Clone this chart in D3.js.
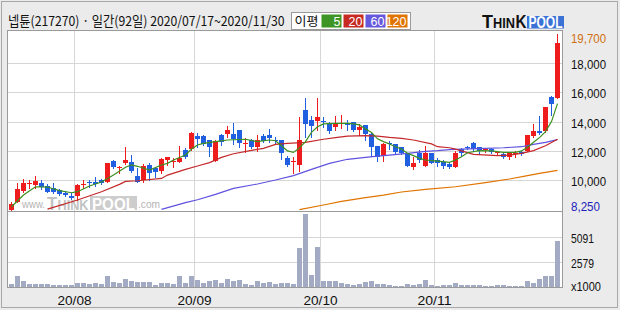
<!DOCTYPE html>
<html><head><meta charset="utf-8">
<script src="https://cdn.jsdelivr.net/npm/d3@7"></script>
<style>html,body{margin:0;padding:0;background:#ebebeb;}svg{display:block}</style>
</head><body>
<script>
const title = "넵튠(217270) · 일간(92일) 2020/07/17~2020/11/30";
const legendLabel = "이평";
const maNames = ["5", "20", "60", "120"];
const monthIdx = [11, 31, 52, 71];
const monthLabels = ["20/08", "20/09", "20/10", "20/11"];
const priceTicks = [10000, 12000, 14000, 16000, 18000];
const maxLabel = 19700;
const minLabel = 8250;
const volTicks = [5091, 2579];
const volUnit = "x1000";

const openP = [7950,8520,9270,9750,9660,9770,9590,9430,9320,9130,8930,8930,9700,9890,9890,10000,9890,11300,10800,11140,11210,10270,10000,11030,10850,10640,11370,11210,11260,12050,12120,13010,13010,12740,11320,13080,13150,13150,13420,12490,12740,12280,13010,13080,12760,12740,11530,11280,11030,14790,14110,14040,14020,13880,13650,13860,13840,13950,13420,13770,13150,12330,11640,12530,12470,12240,11870,10910,11870,10980,11870,11370,11260,11070,10910,12120,12280,12510,12240,12100,12100,11850,11780,11550,11800,11940,12010,13040,13360,13360,15660,15590];
const highP = [8520,9770,10070,10000,10270,10000,9700,9770,9380,9270,9090,9730,10000,10000,10180,10070,11190,11370,10960,12260,11710,10800,11070,11140,10910,11480,11600,11480,12330,12170,13310,13200,13080,12740,12740,13150,13700,13880,13420,12850,12790,13080,13150,13470,12970,12740,11670,11550,14340,15640,14380,15640,14290,14000,14380,14450,14110,13950,13810,13770,13200,12330,12510,12670,12470,12240,11870,11550,12050,12330,11870,11530,11370,11190,11990,12210,12350,12580,12280,12210,12170,12010,11870,11940,11990,11990,13080,13840,14380,15020,15750,19980];
const lowP = [7900,8470,9160,9430,9430,9380,9160,9090,8970,8930,8700,8630,9430,9540,9610,9700,9840,10800,10460,11070,10570,9870,9840,10000,10230,10460,11030,10910,11210,11530,12050,12280,12400,11670,11320,12400,12970,12470,12280,11940,12170,12010,12630,12630,12470,11420,10980,10460,10640,12970,12970,13420,13650,13200,13420,13580,13420,13360,13080,12740,11640,11320,11320,12120,11830,11760,10980,10750,11210,10980,11190,10980,10850,10850,10910,11640,12100,11990,11780,11890,11830,11760,11480,11440,11600,11710,11990,12970,13150,13310,14450,15590];
const closeP = [8360,9380,9770,9790,9930,9540,9200,9200,9040,8970,8740,9660,9750,9770,9730,9770,11140,10910,10910,11370,10640,9890,10960,10460,10530,11420,11550,11320,11480,11600,13240,12830,12470,12240,12670,12630,13420,12790,12510,12530,12280,12740,12670,12900,12720,11830,11030,11320,12740,13810,13720,14310,13970,13360,13930,13900,13790,13420,13650,13150,12280,11600,12470,12490,11940,11830,10980,11190,11370,11870,11190,11140,10980,10890,11870,11830,12170,12100,11990,12150,11940,11890,11550,11870,11850,11760,13080,13360,13200,15020,15210,19360];
const volume = [335,1080,640,335,335,335,335,233,233,233,233,436,436,335,436,335,1080,538,436,842,640,500,500,538,233,436,436,335,1080,436,1080,741,436,640,741,436,842,640,741,335,233,640,436,538,335,436,436,335,4020,7440,1250,4120,640,640,640,436,335,233,335,538,640,335,335,233,132,132,335,233,335,741,233,132,233,233,436,233,233,233,233,132,132,233,233,132,132,132,640,436,842,1150,1150,4700];

const ma5Idx = [0,2,4,6,8,10,11,13,15,17,19,20,21,23,25,26,27,29,30,31,32,34,36,39,41,43,44,45,46,47,48,49,50,51,52,54,56,57,58,59,60,61,62,63,64,65,66,67,68,69,71,73,74,75,76,78,80,82,84,85,86,87,88,89,90,91];
const ma5Val = [8170,8970,9540,9520,9270,9130,9200,9590,9860,10340,10870,11030,10940,10680,11030,11140,11370,11710,12120,12400,12510,12630,12740,12790,12630,12740,12690,12350,11990,11890,12210,12630,13260,13650,13840,13880,13880,13840,13770,13500,13260,12820,12630,12470,12280,12120,11830,11670,11480,11370,11300,11210,11370,11600,11870,12010,11990,11890,11890,11990,12240,12580,12900,13310,14000,15230];
const ma20Idx = [6,11,15,18,19,21,25,26,29,31,33,35,37,40,42,44,46,49,52,54,56,59,61,63,65,67,70,71,73,74,77,81,83,85,87,89,91];
const ma20Val = [8010,8630,9200,9700,9910,9950,10110,10340,10730,10960,11190,11550,11800,12030,12170,12440,12510,12580,12790,12900,13010,13040,13010,12920,12850,12740,12470,12280,12210,12120,11760,11670,11710,11830,12010,12350,12790];
const ma60Idx = [25,29,31,34,37,41,44,47,50,53,56,59,61,63,66,69,71,73,75,79,82,85,87,89,91];
const ma60Val = [7990,8450,8650,9020,9430,9730,10000,10300,10730,11140,11420,11550,11640,11710,11830,11960,12010,12080,12120,12170,12210,12280,12440,12580,12760];
const ma120Idx = [48,52,55,59,62,65,69,74,79,83,86,88,91];
const ma120Val = [7970,8290,8540,8790,8970,9180,9360,9540,9820,10070,10300,10460,10660];

const W = 620, H = 310;
const L = 8, R = 560, PT = 31, PB = 211, VT = 212, VB = 287;
const colUp = "#ee1c1c", colDown = "#1f5fe0";
const maColors = ["#3c8f1e", "#c4282a", "#5f52de", "#e07400"];
const boxColors = ["#3d9525", "#c62a22", "#6558dc", "#e07400"];
const gridCol = "#d6d6d6";

const svg = d3.select("body").append("svg").attr("width", W).attr("height", H);
svg.append("rect").attr("x",1.5).attr("y",1.5).attr("width",616).attr("height",306)
  .attr("fill","#ebebeb").attr("stroke","#a8a8a8");

const n = closeP.length;
const xb = d3.scaleBand().domain(d3.range(n)).range([L, R]).padding(0);
const xc = i => xb(i) + 3.5;
const yP = d3.scaleLinear().domain([7880, 20200]).range([PB, PT]);
const yV = d3.scaleLinear().domain([0, 7640]).range([VB, VT]);

svg.append("rect").attr("x",7.5).attr("y",30.5).attr("width",555).attr("height",257)
  .attr("fill","#fff");

const grid = svg.append("g").attr("shape-rendering","crispEdges").attr("stroke",gridCol);
priceTicks.forEach(t => {
  const y = Math.round(yP(t)) + 0.5;
  grid.append("line").attr("x1",8).attr("x2",562).attr("y1",y).attr("y2",y);
});
volTicks.forEach(t => {
  const y = Math.round(yV(t)) + 0.5;
  grid.append("line").attr("x1",8).attr("x2",562).attr("y1",y).attr("y2",y);
});
monthIdx.forEach(i => {
  const x = xb(i) + 0.5;
  grid.append("line").attr("x1",x).attr("x2",x).attr("y1",31).attr("y2",287);
});

// helper for fixed-width text
function txt(g, x, y, s, size, width, opts = {}) {
  const t = g.append("text").attr("x", x).attr("y", y)
    .attr("font-family", opts.family || "Liberation Sans").attr("font-size", size)
    .attr("fill", opts.fill || "#111").text(s);
  if (opts.bold) t.attr("font-weight", "bold");
  if (opts.anchor) t.attr("text-anchor", opts.anchor);
  if (width) t.attr("textLength", width).attr("lengthAdjust", "spacingAndGlyphs");
  return t;
}

// watermark
const wm = svg.append("g");
txt(wm, 22, 208, "www.", 10, 23, {fill:"#b4b4b4"});
txt(wm, 47, 210, "T", 19, 10, {fill:"#c2c2c2", bold:true});
txt(wm, 57.5, 210, "HINK", 15, 31, {fill:"#c2c2c2", bold:true});
wm.append("rect").attr("x",90).attr("y",196).attr("width",47).attr("height",14).attr("fill","#cdcdcd");
txt(wm, 92, 209.5, "POOL", 16, 43, {fill:"#fff", bold:true});
txt(wm, 138, 208, ".com", 10, 22, {fill:"#b4b4b4"});

// volume bars
svg.append("g").attr("shape-rendering","crispEdges").selectAll("rect").data(volume).join("rect")
  .attr("x",(d,i)=>xb(i)+1).attr("width",5)
  .attr("y",d=>Math.round(yV(d))).attr("height",d=>VB-Math.round(yV(d)))
  .attr("fill","#a3abc4");

// candles
const cg = svg.append("g").attr("shape-rendering","crispEdges");
d3.range(n).forEach(i => {
  const o = openP[i], c = closeP[i], h = highP[i], l = lowP[i];
  const col = c >= o ? colUp : colDown;
  cg.append("line").attr("x1",xc(i)).attr("x2",xc(i))
    .attr("y1",Math.round(yP(h))).attr("y2",Math.round(yP(l))+1).attr("stroke",col);
  const yt = Math.round(yP(Math.max(o,c))), yb = Math.round(yP(Math.min(o,c)));
  cg.append("rect").attr("x",xb(i)+1).attr("width",5).attr("y",yt).attr("height",Math.max(1,yb-yt))
    .attr("fill",col);
});

// moving averages
const maSets = [[ma5Idx,ma5Val],[ma20Idx,ma20Val],[ma60Idx,ma60Val],[ma120Idx,ma120Val]];
const line = d3.line().x(d=>xc(d[0])).y(d=>yP(d[1]));
[3,2,1,0].forEach(k => {
  const pts = maSets[k][0].map((ix,j)=>[ix, maSets[k][1][j]]);
  svg.append("path").attr("d",line(pts)).attr("fill","none")
    .attr("stroke",maColors[k]).attr("stroke-width",1.2);
});

// frame
const fr = svg.append("g").attr("shape-rendering","crispEdges").attr("stroke","#9a9a9a").attr("fill","none");
fr.append("rect").attr("x",7.5).attr("y",30.5).attr("width",555).attr("height",257);
fr.append("line").attr("x1",7.5).attr("x2",562.5).attr("y1",211.5).attr("y2",211.5);

// right axis labels
const fmt = d3.format(",");
const rl = svg.append("g");
priceTicks.forEach(t => txt(rl, 571, Math.round(yP(t))+5.8, fmt(t), 13.5, 35));
txt(rl, 571, 43, fmt(maxLabel), 13.5, 35, {fill:"#d0700e"});
txt(rl, 571, 211, fmt(minLabel), 13.5, 29, {fill:"#2222bb"});
volTicks.forEach(t => txt(rl, 571, Math.round(yV(t))+5.6, String(t), 13.5, 23));
txt(rl, 571, 291, volUnit, 13.5, 30);

// x labels
const xl = svg.append("g");
monthIdx.forEach((ix,j) => txt(xl, xb(ix)+0.5, 305, monthLabels[j], 13.5, 34, {anchor:"middle"}));

// header (scaled horizontally to the narrow bitmap-font width)
svg.append("text").attr("transform","translate(8,26) scale(0.87,1)")
  .attr("font-family","Noto Sans CJK KR").attr("font-size",13.5).attr("fill","#111")
  .attr("textLength",318).attr("lengthAdjust","spacingAndGlyphs").text(title);

// legend
svg.append("rect").attr("x",291.5).attr("y",12.5).attr("width",119).attr("height",17)
  .attr("fill","#fff").attr("stroke","#9a9a9a").attr("shape-rendering","crispEdges");
txt(svg, 294.5, 26, legendLabel, 12.5, 24, {family:"Noto Sans CJK KR"});
const bx = [321.5, 343.5, 365.5, 387.5];
maNames.forEach((nm,k) => {
  svg.append("rect").attr("x",bx[k]).attr("y",14.5).attr("width",20).attr("height",13).attr("fill",boxColors[k]);
  txt(svg, bx[k]+19, 26, nm, 12.5, null, {fill:"#fff", anchor:"end"});
});

// logo
txt(svg, 482, 28.3, "T", 18, 11, {bold:true});
txt(svg, 493, 28.3, "HIN", 14, 22, {bold:true});
txt(svg, 515.5, 28.3, "K", 18, 11, {bold:true});
svg.append("rect").attr("x",527).attr("y",16).attr("width",37).attr("height",12.5).attr("fill","#3a72d6");
txt(svg, 528.5, 28, "POOL", 16, 34, {fill:"#fff", bold:true});
</script>
</body></html>
